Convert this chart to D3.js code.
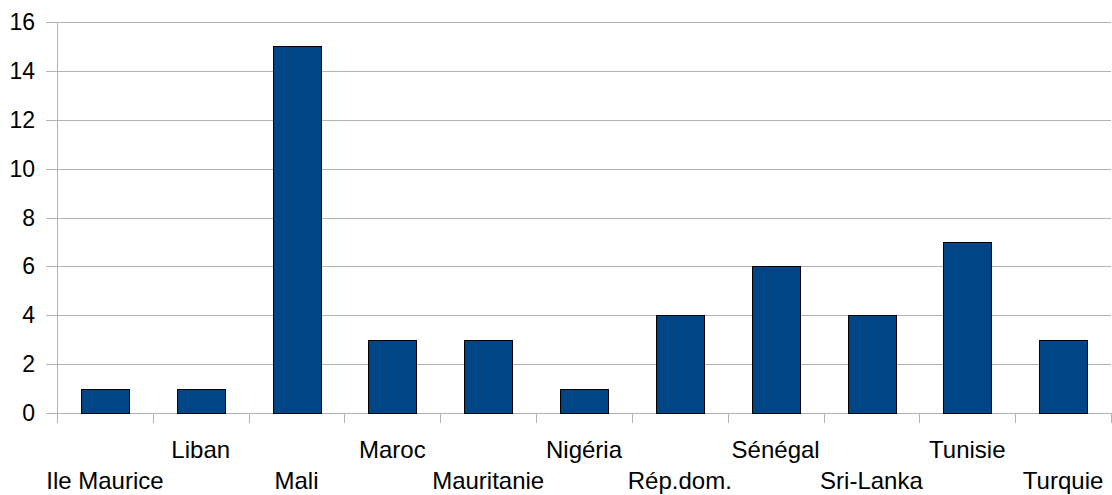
<!DOCTYPE html>
<html><head><meta charset="utf-8">
<script src="https://cdn.jsdelivr.net/npm/d3@7"></script>
<style>body{margin:0;background:#fff}svg text{font-family:"Liberation Sans",Arial,sans-serif}</style>
</head><body>
<svg id="c" width="1112" height="495"></svg>
<script>
const categories = ["Ile Maurice","Liban","Mali","Maroc","Mauritanie","Nigéria","Rép.dom.","Sénégal","Sri-Lanka","Tunisie","Turquie"];
const values = [1,1,15,3,3,1,4,6,4,7,3];
const yTicks = [0,2,4,6,8,10,12,14,16];

(function(){
const svg = d3.select("#c");
const pL = 57, pR = 1111, pT = 22, pB = 413;
const x = d3.scaleBand().domain(categories).range([pL, pR]).paddingInner(0).paddingOuter(0);
const y = d3.scaleLinear().domain([0,16]).range([pB, pT]);
const grid = "#b3b3b3";

// gridlines
svg.append("g").selectAll("line").data(yTicks).join("line")
  .attr("x1", pL - 11).attr("x2", pR)
  .attr("y1", d => Math.round(y(d)) + 0.5).attr("y2", d => Math.round(y(d)) + 0.5)
  .attr("stroke", grid).attr("stroke-width", 1);

// y axis line
svg.append("line").attr("x1", pL + 0.5).attr("x2", pL + 0.5)
  .attr("y1", pT).attr("y2", pB + 10).attr("stroke", grid);

// category ticks
const bounds = categories.map(c => x(c)).concat([pR]);
svg.append("g").selectAll("line").data(bounds).join("line")
  .attr("x1", d => Math.round(d) + 0.5).attr("x2", d => Math.round(d) + 0.5)
  .attr("y1", pB).attr("y2", pB + 10).attr("stroke", grid);

// y labels
svg.append("g").selectAll("text").data(yTicks).join("text")
  .attr("x", 35).attr("y", d => y(d)).attr("dy", "0.35em")
  .attr("text-anchor", "end").attr("font-size", 23).attr("fill", "#000")
  .text(d => d);

// bars
svg.append("g").selectAll("rect").data(values).join("rect")
  .attr("x", (d,i) => Math.round(x(categories[i]) + x.bandwidth()/4) + 0.5)
  .attr("width", Math.round(x.bandwidth()/2))
  .attr("y", d => Math.round(y(d)) + 0.5)
  .attr("height", d => Math.round(y(0)) - Math.round(y(d)))
  .attr("fill", "#004586").attr("stroke", "#000").attr("stroke-width", 1);

// x labels (staggered)
svg.append("g").selectAll("text").data(categories).join("text")
  .attr("x", d => x(d) + x.bandwidth()/2)
  .attr("y", (d,i) => i % 2 === 0 ? 489 : 458)
  .attr("text-anchor", "middle").attr("font-size", 24).attr("fill", "#000")
  .text(d => d);
})();
</script>
</body></html>
